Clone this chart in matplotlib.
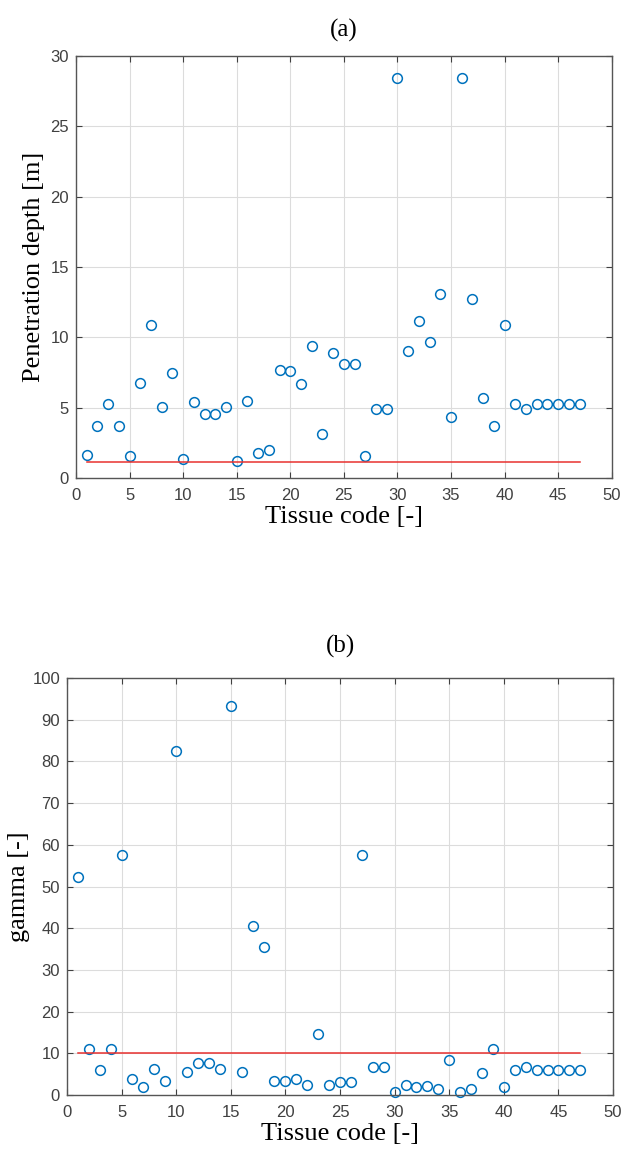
import matplotlib
matplotlib.use("Agg")
import matplotlib.pyplot as plt
import numpy as np

# codigo do tecido (1..47)
tecido = np.arange(1, 48)

# profundidade de penetracao [m]
profundidade = [1.66, 3.67, 5.25, 3.67, 1.59, 6.74, 10.86, 5.09, 7.45, 1.35,
                5.42, 4.57, 4.57, 5.09, 1.23, 5.51, 1.82, 2.01, 7.69, 7.62,
                6.67, 9.39, 3.15, 8.92, 8.09, 8.09, 1.59, 4.92, 4.92, 28.46,
                9.04, 11.19, 9.70, 13.06, 4.38, 28.46, 12.70, 5.68, 3.67, 10.86,
                5.25, 4.92, 5.25, 5.25, 5.25, 5.25, 5.25]
limite_prof = 1.18

# gamma [-]
gamma = [52.4, 11.1, 5.9, 11.1, 57.6, 3.8, 1.8, 6.2, 3.3, 82.4,
         5.6, 7.7, 7.7, 6.2, 93.2, 5.4, 40.6, 35.4, 3.3, 3.3,
         3.8, 2.5, 14.7, 2.5, 3.0, 3.0, 57.6, 6.8, 6.8, 0.8,
         2.3, 1.8, 2.2, 1.4, 8.3, 0.8, 1.5, 5.2, 11.1, 1.8,
         5.9, 6.8, 5.9, 5.9, 5.9, 5.9, 5.9]
limite_gamma = 10

azul = '#0072BD'
cinza = '#404040'
serif = 'Liberation Serif'

fig = plt.figure(figsize=(6.23, 11.69), dpi=100)
ax1 = fig.add_axes([0.122, 0.591, 0.860, 0.361])
ax2 = fig.add_axes([0.1075, 0.0633, 0.8765, 0.3567])

def estilo(ax, ymax, ystep, ylabel, titulo, tpad, ylpad):
    ax.set_xlim(0, 50)
    ax.set_ylim(0, ymax)
    ax.set_xticks(np.arange(0, 51, 5))
    ax.set_yticks(np.arange(0, ymax + 1, ystep))
    ax.grid(True, color='#dcdcdc', linewidth=0.8)
    ax.set_axisbelow(True)
    ax.tick_params(direction='in', top=True, right=True, length=4,
                   colors=cinza, labelsize=12, width=0.8)
    ax.tick_params(axis='x', pad=7)
    ax.tick_params(axis='y', pad=5)
    for lab in ax.get_xticklabels() + ax.get_yticklabels():
        lab.set_family('Liberation Sans')
    for s in ax.spines.values():
        s.set_color('#555555')
        s.set_linewidth(1.0)
    ax.set_xlabel('Tissue code [-]', family=serif, fontsize=19, labelpad=2)
    ax.set_ylabel(ylabel, family=serif, fontsize=19, labelpad=ylpad)
    ax.set_title(titulo, family=serif, fontsize=18, pad=tpad)

# (a) profundidade
ax1.plot(tecido, profundidade, 'o', mfc='none', mec=azul, ms=7, mew=1.1)
ax1.plot([tecido[0], tecido[-1]], [limite_prof, limite_prof], '-', color='#e8312f', lw=1.1)
estilo(ax1, 30, 5, 'Penetration depth [m]', '(a)', 14, 4)

# (b) gamma
ax2.plot(tecido, gamma, 'o', mfc='none', mec=azul, ms=7, mew=1.1, clip_on=False)
ax2.plot([tecido[0], tecido[-1]], [limite_gamma, limite_gamma], '-', color='#e8312f', lw=1.1)
estilo(ax2, 100, 10, 'gamma [-]', '(b)', 18, 1.5)

fig.savefig('out.png', dpi=100)
